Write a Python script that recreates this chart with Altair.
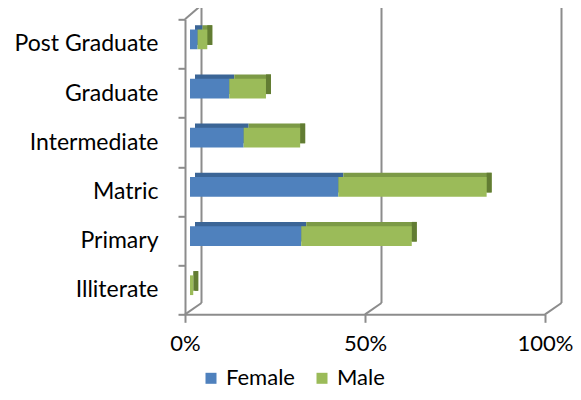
import altair as alt
import pandas as pd

categories = ["Post Graduate", "Graduate", "Intermediate", "Matric", "Primary", "Illiterate"]
female = [2.1, 10.9, 14.9, 41.2, 30.9, 0.0]
male = [2.7, 10.2, 15.7, 41.2, 30.7, 0.9]
x_ticks = [0, 50, 100]

FONT = "Lato"
FS = 23
GRID = "#8c8c8c"
BLUE, GREEN = "#4F81BD", "#9BBB59"
BLUE_TOP, GREEN_TOP, GREEN_SIDE = "#3B6596", "#7C9A46", "#627C33"

rows = []
for c, f, m in zip(categories, female, male):
    rows.append({"cat": c, "gender": "Female", "x0": 0.0, "x1": f, "top": BLUE_TOP})
    rows.append({"cat": c, "gender": "Male", "x0": f, "x1": f + m, "top": GREEN_TOP})
bars = pd.DataFrame(rows)
males = bars[bars.gender == "Male"]
grid = pd.DataFrame({"v": x_ticks})
corner = pd.DataFrame({"v": [0]})

W, H = 360, 295
BAR_H = 19.7
FX, FY = 5, -4.5
DX, DY = 5, -4.3
WX, WY_TOP, WY_BOT = 16.5, -14.3, H - 11.3

yenc = alt.Y("cat:N", sort=categories, scale=alt.Scale(paddingInner=0, paddingOuter=0),
             axis=alt.Axis(title=None, tickBand="extent", tickSize=7, tickColor=GRID, tickWidth=2,
                           domainColor=GRID, domainWidth=2, labelFont=FONT, labelFontSize=FS,
                           labelColor="black", labelPadding=20, grid=False))
xscale = alt.Scale(domain=[0, 100], nice=False)
xaxis = alt.Axis(title=None, values=x_ticks, labelExpr="datum.value + '%'", tickSize=8,
                 tickColor=GRID, tickWidth=2, domainColor=GRID, domainWidth=2, labelFlush=False,
                 labelFont=FONT, labelFontSize=22, labelColor="black", labelPadding=11, grid=False)

back = alt.Chart(grid).mark_rule(color=GRID, strokeWidth=2, xOffset=WX).encode(
    x=alt.X("v:Q", scale=xscale, axis=xaxis), y=alt.value(WY_TOP), y2=alt.value(WY_BOT))
floor = alt.Chart(grid).mark_rule(color=GRID, strokeWidth=2, x2Offset=WX).encode(
    x=alt.X("v:Q", scale=xscale), x2="v:Q", y=alt.value(H), y2=alt.value(WY_BOT))
topleft = alt.Chart(corner).mark_rule(color=GRID, strokeWidth=2, x2Offset=WX).encode(
    x=alt.X("v:Q", scale=xscale), x2="v:Q", y=alt.value(0), y2=alt.value(WY_TOP))

tops = alt.Chart(bars).mark_bar(height=BAR_H, xOffset=FX + DX, x2Offset=FX + DX, yOffset=FY + DY).encode(
    y=yenc, x=alt.X("x0:Q", scale=xscale), x2="x1:Q", color=alt.Color("top:N", scale=None))
side = alt.Chart(males).mark_bar(height=BAR_H, xOffset=FX, x2Offset=FX + DX, yOffset=FY + DY,
                                  color=GREEN_SIDE).encode(
    y=yenc, x=alt.X("x1:Q", scale=xscale), x2="x1:Q")
front = alt.Chart(bars).mark_bar(height=BAR_H, xOffset=FX, x2Offset=FX, yOffset=FY).encode(
    y=yenc, x=alt.X("x0:Q", scale=xscale), x2="x1:Q",
    color=alt.Color("gender:N", scale=alt.Scale(domain=["Female", "Male"], range=[BLUE, GREEN]),
                    legend=alt.Legend(title=None, orient="none", legendX=15, legendY=348,
                                      direction="horizontal", symbolType="square", symbolSize=121,
                                      symbolStrokeWidth=0, labelFont=FONT, labelFontSize=22,
                                      labelColor="black", columnPadding=16, labelOffset=4,
                                      padding=0)))

chart = alt.layer(back, floor, topleft, tops, side, front).properties(
    width=W, height=H,
    autosize=alt.AutoSizeParams(type="none"),
    padding={"left": 177, "top": 11.3, "right": 28, "bottom": 77.7},
).configure_view(stroke=None)

chart.save("out.html", embed_options={"renderer": "svg", "actions": False})
